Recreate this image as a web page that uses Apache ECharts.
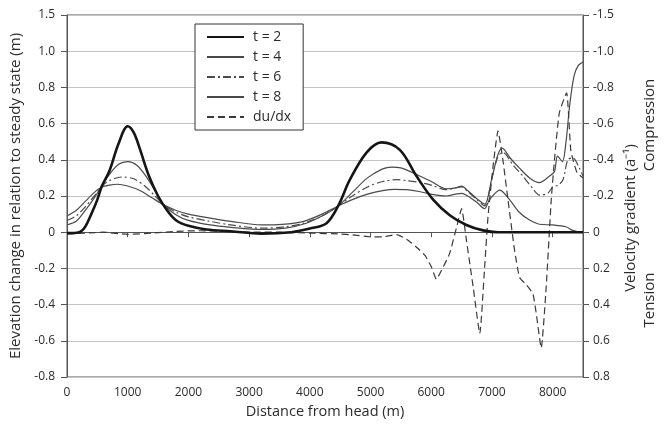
<!DOCTYPE html>
<html>
<head>
<meta charset="utf-8">
<script src="https://cdn.jsdelivr.net/npm/echarts@6/dist/echarts.min.js"></script>
<style>
html,body{margin:0;padding:0;background:#fff;}
#chart{width:664px;height:427px;}
</style>
</head>
<body>
<div id="chart"></div>
<script>
// ---------- data ----------
const xTicks = [0, 1000, 2000, 3000, 4000, 5000, 6000, 7000, 8000];
const leftTickValues = [-0.8, -0.6, -0.4, -0.2, 0, 0.2, 0.4, 0.6, 0.8, 1.0, 1.2];
const leftTickLabels = ['-0.8', '-0.6', '-0.4', '-0.2', '0', '0.2', '0.4', '0.6', '0.8', '1.0', '1.5'];
const rightTickValues = [-1.2, -1.0, -0.8, -0.6, -0.4, -0.2, 0, 0.2, 0.4, 0.6, 0.8];
const rightTickLabels = ['-1.5', '-1.0', '-0.8', '-0.6', '-0.4', '-0.2', '0', '0.2', '0.4', '0.6', '0.8'];
const seriesNames = ['t = 2', 't = 4', 't = 6', 't = 8', 'du/dx'];

const t2Data = [
  [0, -0.005], [200, 0.0], [300, 0.03], [400, 0.1], [500, 0.18], [575, 0.255], [700, 0.34], [850, 0.49],
  [1000, 0.585], [1100, 0.55], [1200, 0.46], [1350, 0.31], [1500, 0.2], [1650, 0.12], [1800, 0.065],
  [2000, 0.035], [2300, 0.015], [2700, 0.005], [3200, -0.008], [3700, 0.0], [4000, 0.02], [4276, 0.05],
  [4467, 0.145], [4660, 0.29], [4934, 0.44], [5181, 0.496], [5482, 0.455], [5757, 0.31], [6031, 0.18],
  [6305, 0.094], [6579, 0.04], [6853, 0.01], [7100, 0.0], [7600, 0.0], [8100, 0.0], [8500, 0.0]
];
const t4Data = [
  [0, 0.04], [150, 0.06], [300, 0.12], [450, 0.19], [575, 0.255], [700, 0.32], [850, 0.375], [1000, 0.39],
  [1150, 0.37], [1300, 0.31], [1450, 0.23], [1600, 0.15], [1800, 0.095], [2000, 0.065], [2357, 0.04],
  [2700, 0.027], [3200, 0.015], [3600, 0.022], [3900, 0.045], [4200, 0.09], [4467, 0.145], [4700, 0.22],
  [4950, 0.3], [5200, 0.35], [5350, 0.36], [5500, 0.355], [5750, 0.32], [6000, 0.28], [6250, 0.24],
  [6400, 0.245], [6500, 0.255], [6600, 0.23], [6750, 0.185], [6880, 0.155], [7000, 0.3], [7100, 0.43],
  [7170, 0.465], [7300, 0.41], [7450, 0.355], [7620, 0.3], [7780, 0.274], [7950, 0.31], [8030, 0.335],
  [8080, 0.42], [8160, 0.39], [8220, 0.5], [8280, 0.7], [8350, 0.86], [8420, 0.92], [8500, 0.94]
];
const t6Data = [
  [0, 0.065], [150, 0.09], [300, 0.14], [450, 0.2], [575, 0.255], [700, 0.285], [900, 0.305], [1100, 0.295],
  [1300, 0.25], [1450, 0.2], [1600, 0.15], [1800, 0.11], [2000, 0.085], [2357, 0.06], [2700, 0.04],
  [3200, 0.022], [3600, 0.03], [3900, 0.05], [4200, 0.09], [4467, 0.145], [4700, 0.2], [4950, 0.25],
  [5200, 0.28], [5420, 0.29], [5600, 0.285], [5800, 0.275], [6000, 0.26], [6250, 0.235], [6400, 0.245],
  [6500, 0.25], [6600, 0.225], [6750, 0.18], [6880, 0.145], [7000, 0.3], [7100, 0.42], [7180, 0.44],
  [7350, 0.37], [7510, 0.31], [7675, 0.24], [7785, 0.205], [7920, 0.215], [8000, 0.25], [8090, 0.26],
  [8170, 0.29], [8250, 0.4], [8330, 0.41], [8440, 0.355], [8500, 0.31]
];
const t8Data = [
  [0, 0.09], [150, 0.12], [300, 0.17], [450, 0.22], [575, 0.25], [700, 0.26], [830, 0.265], [1000, 0.255],
  [1200, 0.23], [1400, 0.19], [1600, 0.15], [1800, 0.12], [2000, 0.1], [2357, 0.078], [2700, 0.06],
  [3200, 0.04], [3600, 0.045], [3900, 0.06], [4200, 0.1], [4467, 0.145], [4700, 0.18], [4950, 0.21],
  [5200, 0.23], [5400, 0.237], [5600, 0.235], [5800, 0.225], [6000, 0.21], [6250, 0.2], [6400, 0.21],
  [6500, 0.215], [6600, 0.2], [6750, 0.165], [6880, 0.13], [6960, 0.18], [7130, 0.233], [7290, 0.18],
  [7450, 0.11], [7620, 0.067], [7780, 0.044], [8000, 0.04], [8220, 0.03], [8330, 0.01], [8470, 0.0], [8500, 0.0]
];
const dudxData = [
  [0, 0.01], [300, 0.005], [600, 0.0], [1000, 0.012], [1400, 0.005], [1800, -0.005], [2200, -0.008],
  [2600, -0.005], [3000, 0.0], [3500, 0.0], [4000, 0.005], [4500, 0.01], [4700, 0.015], [5000, 0.025],
  [5200, 0.026], [5430, 0.013], [5600, 0.04], [5750, 0.08], [5900, 0.13], [6000, 0.19], [6085, 0.26],
  [6170, 0.21], [6300, 0.12], [6420, -0.03], [6500, -0.13], [6580, 0.045], [6690, 0.3], [6800, 0.56],
  [6880, 0.19], [6935, -0.085], [7017, -0.36], [7100, -0.56], [7180, -0.4], [7264, -0.18], [7373, 0.1],
  [7455, 0.25], [7565, 0.29], [7675, 0.34], [7730, 0.45], [7812, 0.64], [7894, 0.3], [7977, -0.18],
  [8030, -0.4], [8110, -0.66], [8230, -0.77], [8300, -0.45], [8400, -0.33], [8500, -0.3]
];

// ---------- chart ----------
const FONT = 'Open Sans';
const TXT = '#2b2b2b';
const AX = '#555';

function makeLabeler(values, labels) {
  const map = {};
  values.forEach((v, i) => { map[Math.round(v * 10)] = labels[i]; });
  return function (v) {
    const k = Math.round(Number(v) * 10);
    return map[k] !== undefined ? map[k] : '';
  };
}
const leftLabeler = makeLabeler(leftTickValues, leftTickLabels);
const rightLabeler = makeLabeler(rightTickValues, rightTickLabels);

const chart = echarts.init(document.getElementById('chart'), null, { renderer: 'canvas' });
chart.setOption({
  animation: false,
  backgroundColor: '#fff',
  textStyle: { fontFamily: FONT },
  grid: { left: 67, right: 81, top: 15, bottom: 50, show: true, borderColor: AX, borderWidth: 1 },
  legend: {
    data: seriesNames,
    orient: 'vertical',
    left: 195, top: 24,
    itemWidth: 37, itemHeight: 14, itemGap: 6,
    padding: [6, 12, 6, 11],
    borderColor: '#333', borderWidth: 1,
    backgroundColor: '#fff',
    itemStyle: { color: 'transparent', opacity: 0, borderWidth: 0 },
    textStyle: { fontFamily: FONT, fontSize: 14, color: TXT, padding: [0, 0, 0, 4] }
  },
  xAxis: {
    type: 'value', min: 0, max: 8500, interval: 1000,
    name: 'Distance from head (m)', nameLocation: 'middle', nameGap: 27,
    nameTextStyle: { fontFamily: FONT, fontSize: 14.5, color: TXT },
    axisLine: { show: true, lineStyle: { color: AX, width: 1 } },
    axisTick: { show: true, length: 5, lineStyle: { color: AX } },
    axisLabel: {
      color: TXT, fontSize: 12, fontFamily: FONT, margin: 10, showMaxLabel: false,
      formatter: v => (xTicks.indexOf(v) >= 0 ? String(v) : '')
    },
    splitLine: { show: false }
  },
  yAxis: [
    {
      type: 'value', min: -0.8, max: 1.2, interval: 0.2, position: 'left',
      name: 'Elevation change in relation to steady state (m)', nameLocation: 'middle', nameGap: 41,
      nameTextStyle: { fontFamily: FONT, fontSize: 15, color: TXT },
      axisLine: { show: true, lineStyle: { color: AX, width: 1 } },
      axisTick: { show: true, length: 6, lineStyle: { color: AX } },
      axisLabel: { color: TXT, fontSize: 12, fontFamily: FONT, margin: 12, formatter: leftLabeler },
      splitLine: { show: true, lineStyle: { color: '#c4c4c4', width: 1 } }
    },
    {
      type: 'value', min: -1.2, max: 0.8, interval: 0.2, position: 'right', inverse: true,
      axisLine: { show: true, lineStyle: { color: AX, width: 1 } },
      axisTick: { show: true, length: 6, lineStyle: { color: AX } },
      axisLabel: { color: TXT, fontSize: 12, fontFamily: FONT, margin: 10, formatter: rightLabeler },
      splitLine: { show: false }
    }
  ],
  graphic: [
    { type: 'text', x: 631, y: 218, rotation: Math.PI / 2,
      style: { text: 'Velocity gradient (a\u207B\u00B9)', fontFamily: FONT, fontSize: 15, fill: TXT, align: 'center', verticalAlign: 'middle' } },
    { type: 'text', x: 650, y: 125, rotation: Math.PI / 2,
      style: { text: 'Compression', fontFamily: FONT, fontSize: 15, fill: TXT, align: 'center', verticalAlign: 'middle' } },
    { type: 'text', x: 650, y: 300, rotation: Math.PI / 2,
      style: { text: 'Tension', fontFamily: FONT, fontSize: 15, fill: TXT, align: 'center', verticalAlign: 'middle' } }
  ],
  series: [
    { name: seriesNames[0], type: 'line', data: t2Data, smooth: 0.35, symbol: 'none', z: 5,
      lineStyle: { color: '#151515', width: 2.6 }, itemStyle: { color: '#151515' } },
    { name: seriesNames[1], type: 'line', data: t4Data, smooth: 0.3, symbol: 'none',
      lineStyle: { color: '#4a4a4a', width: 1.2 }, itemStyle: { color: '#4a4a4a' } },
    { name: seriesNames[2], type: 'line', data: t6Data, smooth: 0.3, symbol: 'none',
      lineStyle: { color: '#4a4a4a', width: 1.2, type: [8, 3, 2, 3] }, itemStyle: { color: '#4a4a4a' } },
    { name: seriesNames[3], type: 'line', data: t8Data, smooth: 0.3, symbol: 'none',
      lineStyle: { color: '#4a4a4a', width: 1.2 }, itemStyle: { color: '#4a4a4a' } },
    { name: seriesNames[4], type: 'line', data: dudxData, yAxisIndex: 1, smooth: 0.15, symbol: 'none',
      lineStyle: { color: '#3a3a3a', width: 1.2, type: [7, 4] }, itemStyle: { color: '#3a3a3a' } }
  ]
});
</script>
</body>
</html>
